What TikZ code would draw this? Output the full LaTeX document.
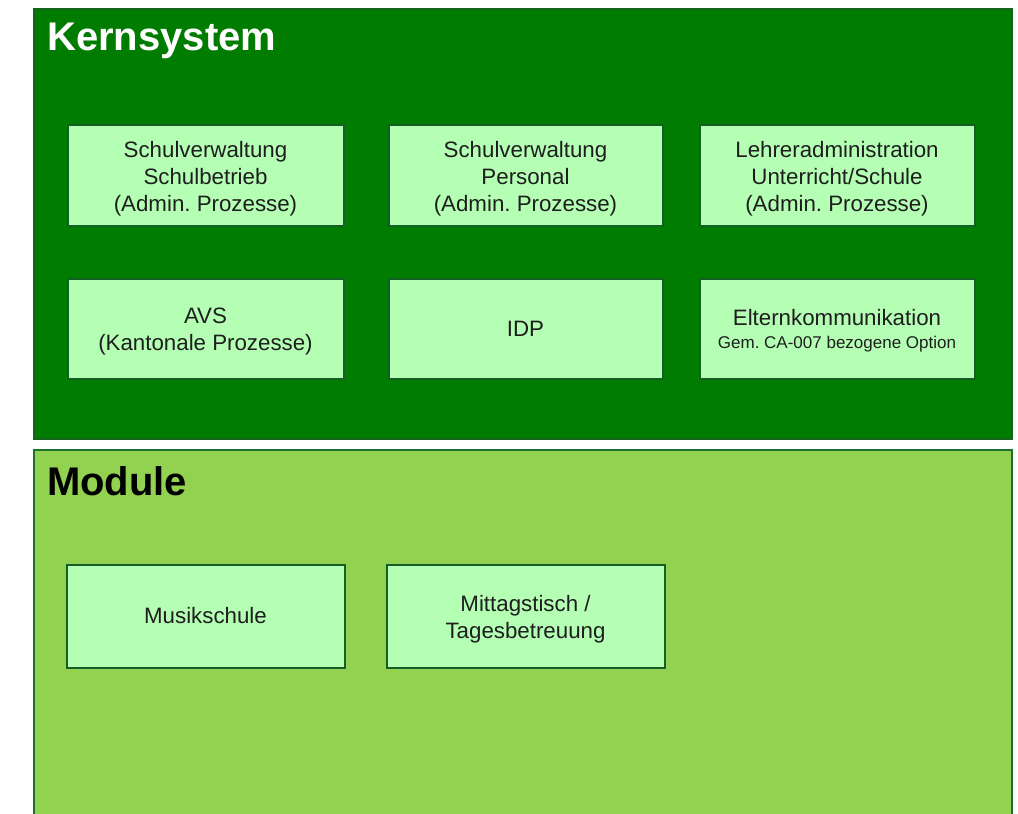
\documentclass[tikz,border=0pt]{standalone}
\usepackage{fontspec}
\setmainfont{Liberation Sans}
\frenchspacing
\definecolor{kernfill}{RGB}{0,124,0}
\definecolor{kerndraw}{RGB}{20,100,30}
\definecolor{modfill}{RGB}{146,210,80}
\definecolor{moddraw}{RGB}{30,110,45}
\definecolor{boxfill}{RGB}{180,255,180}
\definecolor{boxdraw}{RGB}{20,95,35}
\definecolor{txt}{RGB}{30,30,30}
\tikzset{
  panel/.style={line width=2pt},
  modbox/.style={draw=boxdraw, fill=boxfill, line width=2pt, inner sep=0pt},
  boxtext/.style={inner sep=0pt, align=center, text=txt, font=\fontsize{22.3}{27}\selectfont},
  paneltitle/.style={anchor=west, inner sep=0pt, font=\fontsize{40}{46}\selectfont\bfseries}
}
\begin{document}
\begin{tikzpicture}[x=1pt,y=-1pt]
\useasboundingbox (0,0) rectangle (1018,814);
\clip (0,0) rectangle (1018,814);
% panels
\draw[panel, draw=kerndraw, fill=kernfill] (34,9) rectangle (1012,439);
\draw[panel, draw=moddraw, fill=modfill] (34,450) rectangle (1012,830);
\node[paneltitle, text=white] (kern) at (47,41) {Kernsystem};
\node[paneltitle, text=black] (mod) at (47,481) {Module};
% Kernsystem boxes
\node[modbox, minimum width=276pt, minimum height=101pt] (sb) at (205.5,175) {};
\node[modbox, minimum width=274pt, minimum height=101pt] (sp) at (525.5,175) {};
\node[modbox, minimum width=275pt, minimum height=101pt] (la) at (837,175) {};
\node[modbox, minimum width=276pt, minimum height=100pt] (avs) at (205.5,328.5) {};
\node[modbox, minimum width=274pt, minimum height=100pt] (idp) at (525.5,328.5) {};
\node[modbox, minimum width=275pt, minimum height=100pt] (ek) at (837,328.5) {};
\node[boxtext] (sbt) at ([yshift=-3.5pt]sb.center) {Schulverwaltung\\Schulbetrieb\\(Admin. Prozesse)};
\node[boxtext] (spt) at ([yshift=-3.5pt]sp.center) {Schulverwaltung\\Personal\\(Admin. Prozesse)};
\node[boxtext] (lat) at ([yshift=-3.5pt]la.center) {Lehreradministration\\Unterricht/Schule\\(Admin. Prozesse)};
\node[boxtext] (avst) at ([yshift=-3.5pt]avs.center) {AVS\\(Kantonale Prozesse)};
\node[boxtext] (idpt) at (idp.center) {IDP};
\node[boxtext] (ekt) at ([yshift=-2pt]ek.center) {Elternkommunikation\\[-4pt]{\fontsize{17}{20}\selectfont Gem. CA-007 bezogene Option}};
% Module boxes
\node[modbox, minimum width=278pt, minimum height=103pt] (ms) at (205.5,616) {};
\node[modbox, minimum width=278pt, minimum height=103pt] (mt) at (525.5,616) {};
\node[boxtext] (mst) at (ms.center) {Musikschule};
\node[boxtext] (mtt) at ([yshift=-3.5pt]mt.center) {Mittagstisch /\\Tagesbetreuung};
\end{tikzpicture}
\end{document}
